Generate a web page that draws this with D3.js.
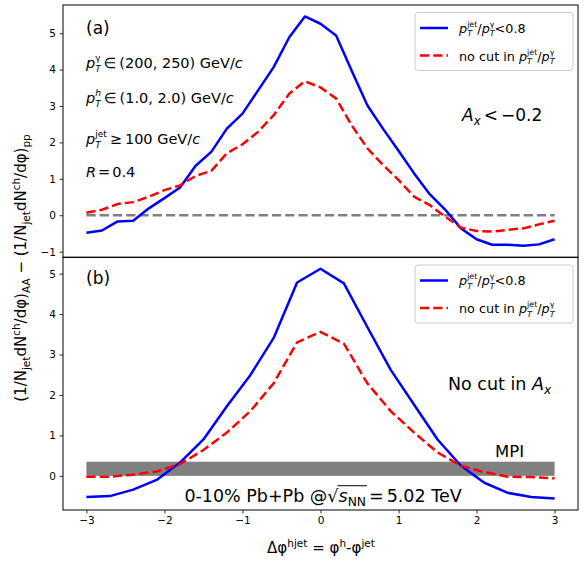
<!DOCTYPE html>
<html><head><meta charset="utf-8">
<script src="https://cdn.jsdelivr.net/npm/d3@7"></script>
<style>
body{margin:0;background:#fff}
svg{display:block}
text{font-family:"DejaVu Sans",sans-serif;white-space:pre;fill:#000}
</style>
</head><body>
<svg id="c" width="584" height="566"></svg>
<script>
// ---------- data ----------
const phiA = [-3.0,-2.8,-2.6,-2.4,-2.2,-2.0,-1.8,-1.6,-1.4,-1.2,-1.0,-0.8,-0.6,-0.4,-0.2,0.0,0.2,0.4,0.6,0.8,1.0,1.2,1.4,1.6,1.8,2.0,2.2,2.4,2.6,2.8,3.0];
const blueA = [-0.48,-0.42,-0.17,-0.15,0.19,0.47,0.76,1.36,1.74,2.38,2.79,3.43,4.07,4.89,5.46,5.26,4.94,3.97,3.02,2.38,1.77,1.15,0.58,0.15,-0.36,-0.66,-0.81,-0.81,-0.84,-0.80,-0.66];
const redA = [0.07,0.15,0.31,0.36,0.51,0.69,0.82,1.08,1.22,1.70,1.95,2.29,2.75,3.34,3.68,3.51,3.21,2.47,1.84,1.38,0.97,0.51,0.28,-0.04,-0.34,-0.43,-0.45,-0.40,-0.36,-0.25,-0.15];
const phiB = [-3.0,-2.7,-2.4,-2.1,-1.8,-1.5,-1.2,-0.9,-0.6,-0.3,0.0,0.3,0.6,0.9,1.2,1.5,1.8,2.1,2.4,2.7,3.0];
const blueB = [-0.52,-0.50,-0.34,-0.10,0.33,0.90,1.72,2.49,3.41,4.78,5.12,4.76,3.68,2.62,1.76,0.90,0.25,-0.17,-0.42,-0.52,-0.56];
const redB = [-0.02,-0.02,0.03,0.11,0.29,0.64,1.07,1.60,2.29,3.30,3.56,3.27,2.29,1.60,1.07,0.58,0.25,0.09,-0.02,-0.03,-0.06];
const zeroLine = [{x:-3,y:0},{x:3,y:0}];
const mpiX = [-3, 3];
const mpiBand = [0, 0.35];
const xTicks = [-3,-2,-1,0,1,2,3];
const yTicksA = [-1,0,1,2,3,4,5];
const yTicksB = [0,1,2,3,4,5];

// ---------- layout ----------
const L = 63, R = 578, T = 5, M = 257.3, B = 510;
const svg = d3.select('#c');
const BLUE = '#0000ff', RED = '#ff0000', GRAY = '#808080';

const x = d3.scaleLinear().domain([-3.3, 3.3]).range([L, R]);
function padDomain(vals){ const e = d3.extent(vals); const p = (e[1]-e[0])*0.05; return [e[0]-p, e[1]+p]; }
const yA = d3.scaleLinear().domain(padDomain(blueA.concat(redA))).range([M, T]);
const yB = d3.scaleLinear().domain(padDomain(blueB.concat(redB).concat(mpiBand))).range([B, M]);

// rich text helper: one <text>, pieces as tspans with absolute positions
function rich(parent, px, py, pieces, fs, anchor){
  const g = parent.append('g');
  const t = g.append('text');
  let cx = 0, prevStart = 0;
  const overs = [];
  pieces.forEach((p, i) => {
    if (p.gap !== undefined){ cx += p.gap; return; }
    const stacked = p.stack || (pieces[i+1] && pieces[i+1].stack);
    const size = p.s ? fs*(stacked ? 0.62 : 0.7) : fs;
    const dy = p.s==='sub' ? fs*(stacked ? 0.30 : 0.24) : p.s==='sup' ? -fs*(stacked ? 0.45 : 0.40) : 0;
    const ts = t.append('tspan').attr('font-size', size)
      .attr('font-style', p.it ? 'italic':'normal')
      .attr('y', dy).text(p.t);
    const sx = p.stack ? prevStart : cx;
    ts.attr('x', sx);
    const w = ts.node().getComputedTextLength();
    if (p.over) overs.push([sx-1, sx+w+1]);
    if (p.stack) cx = Math.max(cx, sx + w); else { prevStart = sx; cx = sx + w; }
  });
  if (overs.length){
    g.append('line').attr('x1', d3.min(overs, d=>d[0])).attr('x2', d3.max(overs, d=>d[1]))
      .attr('y1', -fs*0.93).attr('y2', -fs*0.93).attr('stroke','#000').attr('stroke-width',1);
  }
  const off = anchor==='middle' ? cx/2 : anchor==='end' ? cx : 0;
  g.attr('transform', `translate(${px-off},${py})`);
  return g;
}

const fmt = d => d<0 ? '\u2212'+Math.abs(d) : d;
function panel(ys, yTicks, showX){
  const g = svg.append('g');
  const ya = g.append('g').attr('transform', `translate(${L},0)`)
    .call(d3.axisLeft(ys).tickValues(yTicks).tickSize(3.5).tickPadding(3.5).tickFormat(fmt));
  ya.select('.domain').remove();
  ya.selectAll('text').attr('font-size', 10.5).attr('font-family','DejaVu Sans');
  ya.selectAll('line').attr('stroke','#000').attr('stroke-width',0.8);
  if (showX){
    const xa = g.append('g').attr('transform', `translate(0,${B})`)
      .call(d3.axisBottom(x).tickValues(xTicks).tickSize(3.5).tickPadding(3.5).tickFormat(fmt));
    xa.select('.domain').remove();
    xa.selectAll('text').attr('font-size', 10.5).attr('font-family','DejaVu Sans');
    xa.selectAll('line').attr('stroke','#000').attr('stroke-width',0.8);
  }
  return g;
}

const line = (ys) => d3.line().x(d => x(d[0])).y(d => ys(d[1]));

// ---------- panel (a) ----------
svg.append('clipPath').attr('id','ca').append('rect').attr('x',L).attr('y',T).attr('width',R-L).attr('height',M-T);
panel(yA, yTicksA, false);
const pa = svg.append('g').attr('clip-path','url(#ca)');
pa.append('path').attr('d', d3.line().x(d=>x(d.x)).y(d=>yA(d.y))(zeroLine))
  .attr('fill','none').attr('stroke',GRAY).attr('stroke-width',2.5).attr('stroke-dasharray','9.25,4');
pa.append('path').attr('d', line(yA)(phiA.map((p,i)=>[p, blueA[i]])))
  .attr('fill','none').attr('stroke',BLUE).attr('stroke-width',2.5).attr('stroke-linejoin','round');
pa.append('path').attr('d', line(yA)(phiA.map((p,i)=>[p, redA[i]])))
  .attr('fill','none').attr('stroke',RED).attr('stroke-width',2.5).attr('stroke-dasharray','9.25,4');

// ---------- panel (b) ----------
svg.append('clipPath').attr('id','cb').append('rect').attr('x',L).attr('y',M).attr('width',R-L).attr('height',B-M);
panel(yB, yTicksB, true);
const pb = svg.append('g').attr('clip-path','url(#cb)');
pb.append('rect').attr('x', x(mpiX[0])).attr('width', x(mpiX[1])-x(mpiX[0]))
  .attr('y', yB(mpiBand[1])).attr('height', yB(mpiBand[0]) - yB(mpiBand[1])).attr('fill', GRAY);
pb.append('path').attr('d', line(yB)(phiB.map((p,i)=>[p, blueB[i]])))
  .attr('fill','none').attr('stroke',BLUE).attr('stroke-width',2.5).attr('stroke-linejoin','round');
pb.append('path').attr('d', line(yB)(phiB.map((p,i)=>[p, redB[i]])))
  .attr('fill','none').attr('stroke',RED).attr('stroke-width',2.5).attr('stroke-dasharray','9.25,4');

// frames
svg.append('rect').attr('x',L).attr('y',T).attr('width',R-L).attr('height',M-T).attr('fill','none').attr('stroke','#000').attr('stroke-width',1);
svg.append('rect').attr('x',L).attr('y',M).attr('width',R-L).attr('height',B-M).attr('fill','none').attr('stroke','#000').attr('stroke-width',1);

// ---------- legends ----------
const ptjet = [{t:'p',it:true},{t:'T',it:true,s:'sub'},{t:'jet',s:'sup',stack:true},{t:'/'},{t:'p',it:true},{t:'T',it:true,s:'sub'},{t:'\u03b3',s:'sup',stack:true}];
function legend(top){
  const g = svg.append('g');
  g.append('rect').attr('x',415).attr('y',top).attr('width',158).attr('height',58).attr('rx',3)
    .attr('fill','rgba(255,255,255,0.85)').attr('stroke','#cccccc').attr('stroke-width',1);
  g.append('line').attr('x1',420).attr('x2',448).attr('y1',top+15.5).attr('y2',top+15.5).attr('stroke',BLUE).attr('stroke-width',2.5);
  g.append('line').attr('x1',420).attr('x2',448).attr('y1',top+43).attr('y2',top+43).attr('stroke',RED).attr('stroke-width',2.5).attr('stroke-dasharray','9.25,4');
  rich(g, 459, top+20, ptjet.concat([{t:'<0.8'}]), 12.8, 'start');
  rich(g, 459, top+48, [{t:'no cut in '}].concat(ptjet), 12.8, 'start');
}
legend(12.5);
legend(265);

// ---------- annotations (a) ----------
rich(svg, 86, 34, [{t:'(a)'}], 17, 'start');
rich(svg, 86, 68, [{t:'p',it:true},{t:'T',it:true,s:'sub'},{t:'\u03b3',s:'sup',stack:true},{gap:3},{t:'\u2208'},{gap:3},{t:'(200, 250) GeV/'},{t:'c',it:true}], 14.5, 'start');
rich(svg, 86, 103, [{t:'p',it:true},{t:'T',it:true,s:'sub'},{t:'h',it:true,s:'sup',stack:true},{gap:3},{t:'\u2208'},{gap:3},{t:'(1.0, 2.0) GeV/'},{t:'c',it:true}], 14.5, 'start');
rich(svg, 86, 144, [{t:'p',it:true},{t:'T',it:true,s:'sub'},{t:'jet',s:'sup',stack:true},{gap:3},{t:'\u2265'},{gap:3},{t:'100 GeV/'},{t:'c',it:true}], 14.5, 'start');
rich(svg, 86, 177, [{t:'R',it:true},{gap:2},{t:'='},{gap:2},{t:'0.4'}], 14.5, 'start');
rich(svg, 462, 121, [{t:'A',it:true},{t:'x',it:true,s:'sub'},{gap:3},{t:'<'},{gap:3},{t:'\u22120.2'}], 17, 'start');

// ---------- annotations (b) ----------
rich(svg, 86, 284, [{t:'(b)'}], 17, 'start');
rich(svg, 448, 390, [{t:'No cut in '},{t:'A',it:true},{t:'x',it:true,s:'sub'}], 17.5, 'start');
rich(svg, 495, 457, [{t:'MPI'}], 16.5, 'start');
rich(svg, 323, 502, [{t:'0-10% Pb+Pb @'},{t:'\u221a'},{t:'s',it:true,over:true},{t:'NN',s:'sub',over:true},{gap:3},{t:'='},{gap:3},{t:'5.02 TeV'}], 17.5, 'middle');

// ---------- axis titles ----------
rich(svg, 321, 553, [{t:'\u0394\u03c6'},{t:'hjet',s:'sup'},{t:' = \u03c6'},{t:'h',s:'sup'},{t:'-\u03c6'},{t:'jet',s:'sup'}], 15, 'middle');
const yl = svg.append('g').attr('transform','translate(26,268) rotate(-90)');
rich(yl, 0, 0, [{t:'(1/N'},{t:'jet',s:'sub'},{t:'dN'},{t:'ch',s:'sup'},{t:'/d\u03c6)'},{t:'AA',s:'sub'},{t:' \u2212 (1/N'},{t:'jet',s:'sub'},{t:'dN'},{t:'ch',s:'sup'},{t:'/d\u03c6)'},{t:'pp',s:'sub'}], 15, 'middle');
</script>
</body></html>
